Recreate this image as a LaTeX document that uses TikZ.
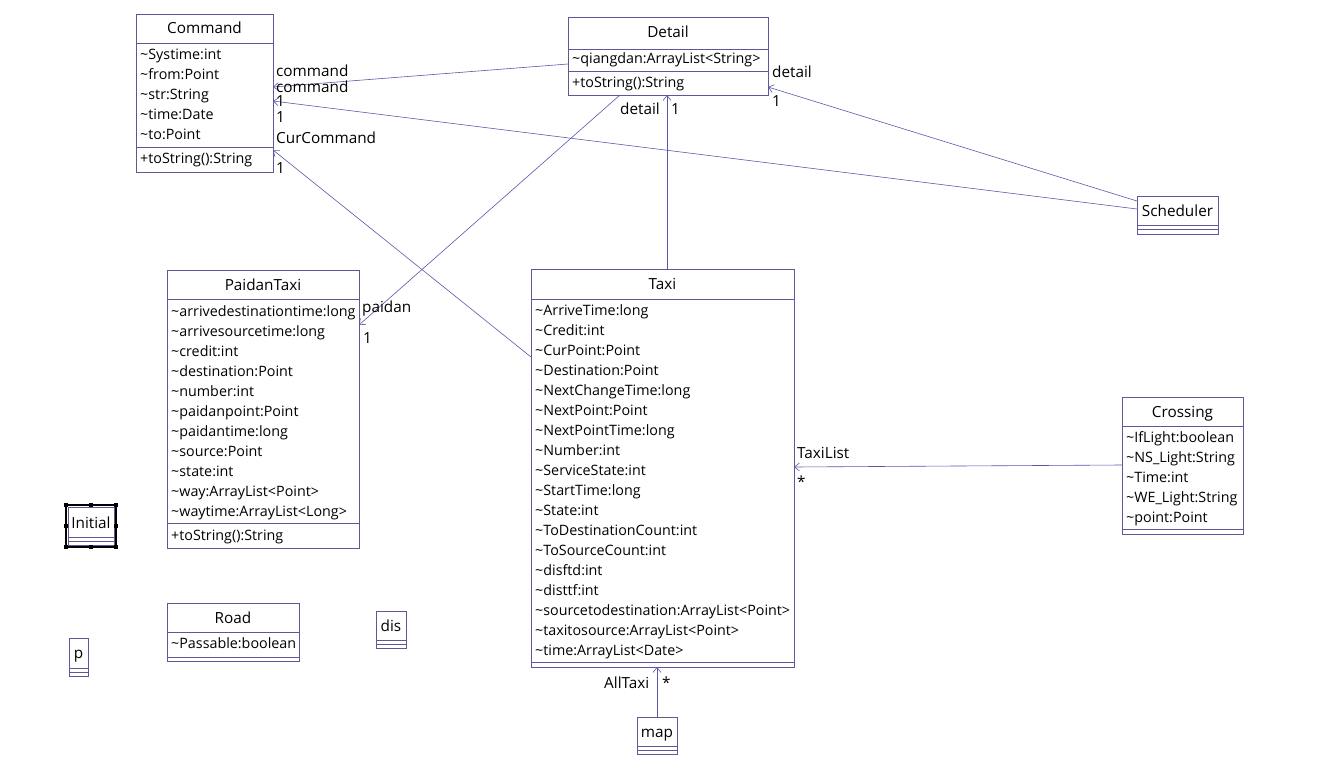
\documentclass[tikz,border=0pt]{standalone}
\usepackage{fontspec}
\setmainfont{Open Sans}
\usetikzlibrary{calc}
\usetikzlibrary{positioning}
\usetikzlibrary{arrows.meta}
\definecolor{umlborder}{RGB}{96,88,150}
\definecolor{umlline}{RGB}{88,88,170}
\newcommand{\pkgvis}{\textasciitilde}
\newcommand{\umlfont}{\fontsize{14.3}{17}\selectfont}
\newcommand{\namefont}{\fontsize{15.3}{18}\selectfont}
\newcommand{\members}[3]{%
  \foreach \m [count=\i from 0] in {#3}
    \node[member] at (#1,#2+20*\i) {\m};}
\newcommand{\compline}[2]{%
  \draw[umlborder,line width=0.8pt] ($(#1.north west)+(0,#2)$) -- ($(#1.north east)+(0,#2)$);}
\tikzset{
  class box/.style={draw=umlborder, line width=0.8pt, anchor=north west, inner sep=0pt, outer sep=0pt},
  class title/.style={font=\namefont, inner sep=0pt, text height=13.5pt, text depth=1.5pt},
  member/.style={font=\umlfont, anchor=west, inner sep=0pt, text height=13pt, text depth=1.5pt},
  assoc/.style={draw=umlline, line width=0.6pt, -{Straight Barb[length=5pt,width=8pt]}},
  role/.style={font=\namefont, anchor=west, inner sep=0pt, text height=13.5pt, text depth=1.5pt},
  handle/.style={fill=black, minimum size=4pt, inner sep=0pt},
}
\begin{document}
\begin{tikzpicture}[x=1pt,y=-1pt]
  \useasboundingbox (0,0) rectangle (1336,765);

  % Command
  \node[class box, minimum width=137pt, minimum height=158pt] (command) at (136,14) {};
  \node[class title] (command title) at ($(command.north)+(0,14)$) {Command};
  \compline{command}{29}
  \compline{command}{133}
  \members{140}{54}{\pkgvis Systime:int, \pkgvis from:Point, \pkgvis str:String, \pkgvis time:Date, \pkgvis to:Point}
  \node[member] (command op) at (140,158) {+toString():String};

  % Detail
  \node[class box, minimum width=200pt, minimum height=78pt] (detail) at (568,17) {};
  \node[class title] (detail title) at ($(detail.north)+(0,15)$) {Detail};
  \compline{detail}{32}
  \compline{detail}{54}
  \node[member] (detail attr) at (572,58) {\pkgvis qiangdan:ArrayList<String>};
  \node[member] (detail op) at (572,82) {+toString():String};

  % Scheduler
  \node[class box, minimum width=81pt, minimum height=38pt] (scheduler) at (1137,196) {};
  \node[class title] (scheduler title) at ($(scheduler.north)+(0,14)$) {Scheduler};
  \compline{scheduler}{29}
  \compline{scheduler}{33}

  % PaidanTaxi
  \node[class box, minimum width=192pt, minimum height=278pt] (paidan) at (167,270) {};
  \node[class title] (paidan title) at ($(paidan.north)+(0,14)$) {PaidanTaxi};
  \compline{paidan}{29}
  \compline{paidan}{253}
  \members{171}{311}{\pkgvis arrivedestinationtime:long, \pkgvis arrivesourcetime:long, \pkgvis credit:int,
    \pkgvis destination:Point, \pkgvis number:int, \pkgvis paidanpoint:Point, \pkgvis paidantime:long,
    \pkgvis source:Point, \pkgvis state:int, \pkgvis way:ArrayList<Point>, \pkgvis waytime:ArrayList<Long>}
  \node[member] (paidan op) at (171,535) {+toString():String};

  % Taxi
  \node[class box, minimum width=263pt, minimum height=398pt] (taxi) at (531,269) {};
  \node[class title] (taxi title) at ($(taxi.north)+(0,14)$) {Taxi};
  \compline{taxi}{30}
  \compline{taxi}{393}
  \members{535}{310}{\pkgvis ArriveTime:long, \pkgvis Credit:int, \pkgvis CurPoint:Point, \pkgvis Destination:Point,
    \pkgvis NextChangeTime:long, \pkgvis NextPoint:Point, \pkgvis NextPointTime:long, \pkgvis Number:int,
    \pkgvis ServiceState:int, \pkgvis StartTime:long, \pkgvis State:int, \pkgvis ToDestinationCount:int,
    \pkgvis ToSourceCount:int, \pkgvis disftd:int, \pkgvis disttf:int,
    \pkgvis sourcetodestination:ArrayList<Point>, \pkgvis taxitosource:ArrayList<Point>, \pkgvis time:ArrayList<Date>}

  % Crossing
  \node[class box, minimum width=121pt, minimum height=137pt] (crossing) at (1122,397) {};
  \node[class title] (crossing title) at ($(crossing.north)+(0,14)$) {Crossing};
  \compline{crossing}{29}
  \compline{crossing}{132}
  \members{1126}{437}{\pkgvis IfLight:boolean, \pkgvis NS\_Light:String, \pkgvis Time:int, \pkgvis WE\_Light:String, \pkgvis point:Point}

  % Initial (selected)
  \node[class box, minimum width=46pt, minimum height=38pt] (initial) at (68,507) {};
  \node[class title] (initial title) at ($(initial.north)+(0,15)$) {Initial};
  \compline{initial}{30}
  \compline{initial}{34}
  \draw[black, line width=1.2pt] (66,505) rectangle (116,547);
  \foreach \hx/\hy in {66/505, 91/505, 116/505, 66/526, 116/526, 66/547, 91/547, 116/547}
    \node[handle] at (\hx,\hy) {};

  % Road
  \node[class box, minimum width=132pt, minimum height=58pt] (road) at (167,603) {};
  \node[class title] (road title) at ($(road.north)+(0,14)$) {Road};
  \compline{road}{29}
  \compline{road}{54}
  \node[member] (road attr) at (171,643) {\pkgvis Passable:boolean};

  % dis
  \node[class box, minimum width=30pt, minimum height=37pt] (dis) at (376,611) {};
  \node[class title] (dis title) at ($(dis.north)+(0,14)$) {dis};
  \compline{dis}{29}
  \compline{dis}{33}

  % p
  \node[class box, minimum width=19pt, minimum height=38pt] (p) at (69,638) {};
  \node[class title] (p title) at ($(p.north)+(0,14)$) {p};
  \compline{p}{30}
  \compline{p}{34}

  % map
  \node[class box, minimum width=40pt, minimum height=37pt] (map) at (637,717) {};
  \node[class title] (map title) at ($(map.north)+(0,14)$) {map};
  \compline{map}{29}
  \compline{map}{33}

  % associations
  \draw[assoc] ($(detail.north west)+(0,47)$) -- ($(command.north east)+(0,73)$);
  \draw[assoc] ($(scheduler.north west)+(0,13)$) -- ($(command.north east)+(0,87)$);
  \draw[assoc] ($(taxi.north west)+(0,88)$) -- ($(command.north east)+(0,136)$);
  \draw[assoc] ($(scheduler.north west)+(0,5)$) -- ($(detail.north east)+(0,70)$);
  \draw[assoc] ($(taxi.north west)+(136,0)$) -- ($(detail.south west)+(99,0)$);
  \draw[assoc] ($(detail.south west)+(52,0)$) -- ($(paidan.north east)+(0,55)$);
  \draw[assoc] ($(crossing.north west)+(0,68)$) -- ($(taxi.north east)+(0,198)$);
  \draw[assoc] (map.north) -- (map.north |- taxi.south);

  % role names and multiplicities
  \node[role] (r command a) at (276,71) {command};
  \node[role] (r command b) at (276,87) {command};
  \node[role] (m command a) at (276,101) {1};
  \node[role] (m command b) at (276,117) {1};
  \node[role] (r curcommand) at (276,138) {CurCommand};
  \node[role] (m curcommand) at (276,167) {1};
  \node[role] (r detail a) at (772,72) {detail};
  \node[role] (m detail a) at (772,101) {1};
  \node[role] (r detail b) at (620,109) {detail};
  \node[role] (m detail b) at (671,109) {1};
  \node[role] (r paidan) at (362,306) {paidan};
  \node[role] (m paidan) at (363,337) {1};
  \node[role] (r taxilist) at (797,452) {TaxiList};
  \node[role] (m taxilist) at (797,481) {*};
  \node[role] (r alltaxi) at (604,682) {AllTaxi};
  \node[role] (m alltaxi) at (662,682) {*};
\end{tikzpicture}
\end{document}
